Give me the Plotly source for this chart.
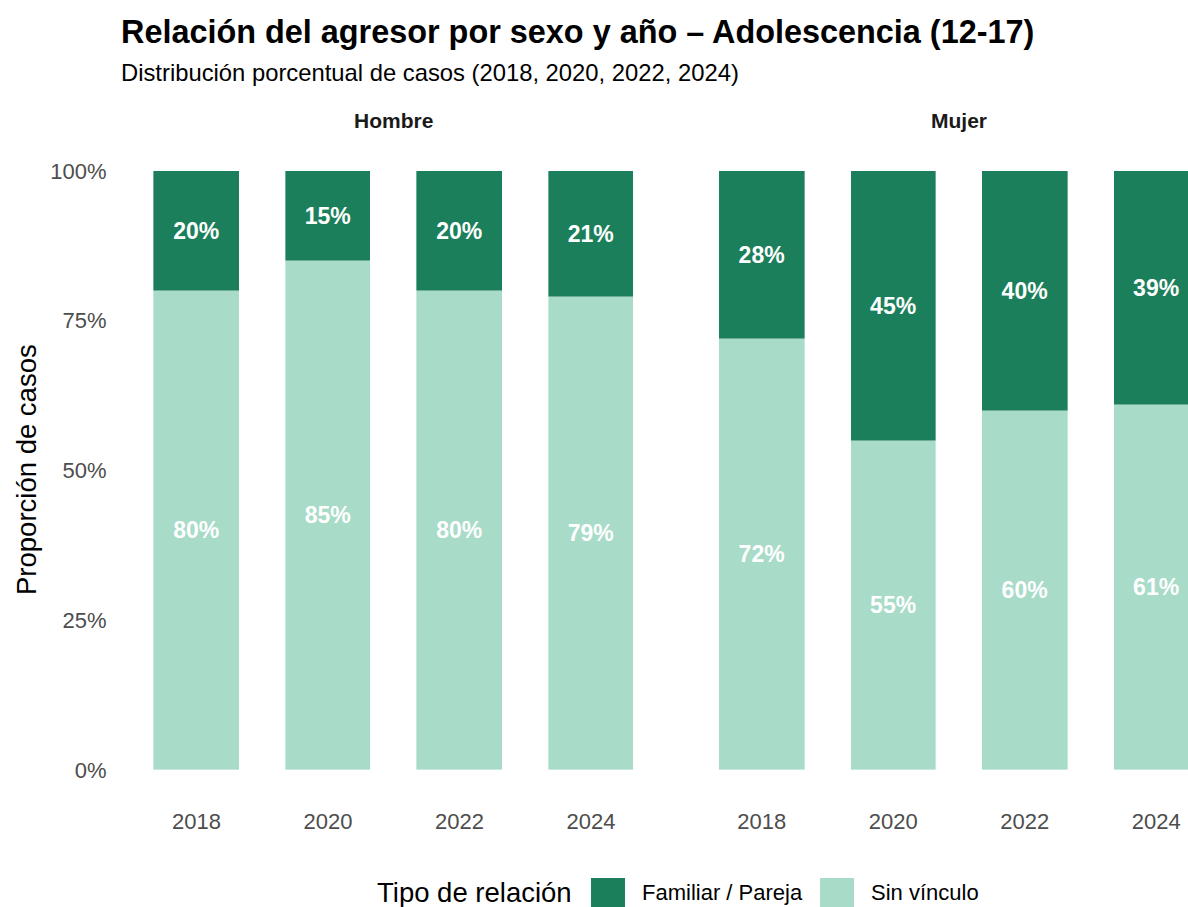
import plotly.graph_objects as go

# --- data -------------------------------------------------------------
years = ["2018", "2020", "2022", "2024"]
sexes = ["Hombre", "Mujer"]
categories = ["Familiar / Pareja", "Sin vínculo"]

# percentage of cases per relation type, by sex and year
hombre_familiar = [20, 15, 20, 21]
hombre_sin_vinculo = [80, 85, 80, 79]
mujer_familiar = [28, 45, 40, 39]
mujer_sin_vinculo = [72, 55, 60, 61]

y_ticks = [0, 25, 50, 75, 100]

title_text = "Relación del agresor por sexo y año – Adolescencia (12-17)"
subtitle_text = "Distribución porcentual de casos (2018, 2020, 2022, 2024)"
y_title = "Proporción de casos"
legend_title = "Tipo de relación"

# --- style ------------------------------------------------------------
W, H = 1188, 907
FONT = "Liberation Sans, Arial, sans-serif"
colors = {"Familiar / Pareja": "#1C7F5B", "Sin vínculo": "#A8DBC8"}
TICK_GREY = "#4D4D4D"
BAR_WIDTH = 0.65


def px_x(p):
    return p / W


def px_y(p):
    return 1 - p / H


positions = list(range(1, len(years) + 1))

panel_data = {
    "Hombre": {"Sin vínculo": hombre_sin_vinculo, "Familiar / Pareja": hombre_familiar},
    "Mujer": {"Sin vínculo": mujer_sin_vinculo, "Familiar / Pareja": mujer_familiar},
}
axis_ids = {"Hombre": "x", "Mujer": "x2"}

fig = go.Figure()

# stack: "Sin vínculo" at the bottom, "Familiar / Pareja" on top
for cat in ["Sin vínculo", "Familiar / Pareja"]:
    for sex in sexes:
        vals = panel_data[sex][cat]
        fig.add_trace(
            go.Bar(
                x=positions,
                y=vals,
                width=BAR_WIDTH,
                name=cat,
                legendgroup=cat,
                showlegend=False,
                xaxis=axis_ids[sex],
                yaxis="y",
                marker=dict(color=colors[cat], line=dict(color="rgba(255,255,255,0.6)", width=0.6)),
                text=[f"{v}%" for v in vals],
                textposition="inside",
                insidetextanchor="middle",
                textangle=0,
                textfont=dict(family=FONT, size=23, color="white", weight="bold"),
                cliponaxis=True,
                hovertemplate=f"{sex} %{{x}}<br>{cat}: %{{y}}%<extra></extra>",
            )
        )

# facet geometry (pixels): one category unit = 131.5 px
unit = 131.5
p1_left = 117.6
p1_right = p1_left + 4.2 * unit
p2_left = p1_right + 13
p2_right_full = p2_left + 4.2 * unit
x2_max = 0.4 + (W - p2_left) / unit

tick_font = dict(family=FONT, size=22, color=TICK_GREY)

common_x = dict(
    tickmode="array",
    tickvals=positions,
    ticktext=years,
    tickfont=tick_font,
    showgrid=False,
    zeroline=False,
    showline=False,
    ticks="",
    ticklabelstandoff=6,
    fixedrange=True,
)

fig.update_layout(
    width=W,
    height=H,
    margin=dict(l=0, r=0, t=0, b=0),
    paper_bgcolor="white",
    plot_bgcolor="white",
    barmode="stack",
    bargap=0,
    showlegend=False,
    font=dict(family=FONT),
    xaxis=dict(domain=[px_x(p1_left), px_x(p1_right)], range=[0.4, 4.6], anchor="y", **common_x),
    xaxis2=dict(domain=[px_x(p2_left), 1.0], range=[0.4, x2_max], anchor="y", **common_x),
    yaxis=dict(
        domain=[px_y(800), px_y(141)],
        range=[-5, 105],
        tickmode="array",
        tickvals=y_ticks,
        ticktext=[f"{t}%" for t in y_ticks],
        tickfont=tick_font,
        showgrid=False,
        zeroline=False,
        showline=False,
        ticks="",
        ticklabelstandoff=10,
        anchor="x",
        fixedrange=True,
    ),
)

annotations = [
    dict(text=f"<b>{title_text}</b>", x=px_x(119), y=px_y(32), xref="paper", yref="paper",
         xanchor="left", yanchor="middle", showarrow=False,
         font=dict(family=FONT, size=32.4, color="black")),
    dict(text=subtitle_text, x=px_x(119), y=px_y(73), xref="paper", yref="paper",
         xanchor="left", yanchor="middle", showarrow=False,
         font=dict(family=FONT, size=23.8, color="black")),
    dict(text=f"<b>{sexes[0]}</b>", x=px_x((p1_left + p1_right) / 2), y=px_y(120), xref="paper", yref="paper",
         xanchor="center", yanchor="middle", showarrow=False,
         font=dict(family=FONT, size=21, color="#1A1A1A")),
    dict(text=f"<b>{sexes[1]}</b>", x=px_x((p2_left + p2_right_full) / 2), y=px_y(120), xref="paper", yref="paper",
         xanchor="center", yanchor="middle", showarrow=False,
         font=dict(family=FONT, size=21, color="#1A1A1A")),
    dict(text=y_title, x=px_x(27), y=px_y(470), xref="paper", yref="paper",
         xanchor="center", yanchor="middle", showarrow=False, textangle=-90,
         font=dict(family=FONT, size=27.5, color="black")),
    dict(text=legend_title, x=px_x(375), y=px_y(892), xref="paper", yref="paper",
         xanchor="left", yanchor="middle", showarrow=False,
         font=dict(family=FONT, size=27.5, color="black")),
]

# legend keys drawn as swatches + labels along the bottom
shapes = []
legend_items = [(categories[0], 591, 640), (categories[1], 820, 869)]
for cat, sx, tx in legend_items:
    shapes.append(dict(type="rect", xref="paper", yref="paper",
                       x0=px_x(sx), x1=px_x(sx + 34), y0=px_y(912), y1=px_y(878),
                       fillcolor=colors[cat], line=dict(width=0)))
    annotations.append(dict(text=cat, x=px_x(tx), y=px_y(892), xref="paper", yref="paper",
                            xanchor="left", yanchor="middle", showarrow=False,
                            font=dict(family=FONT, size=22, color="black")))

fig.update_layout(annotations=annotations, shapes=shapes)

fig.write_html("out.html", config={"displayModeBar": False})
